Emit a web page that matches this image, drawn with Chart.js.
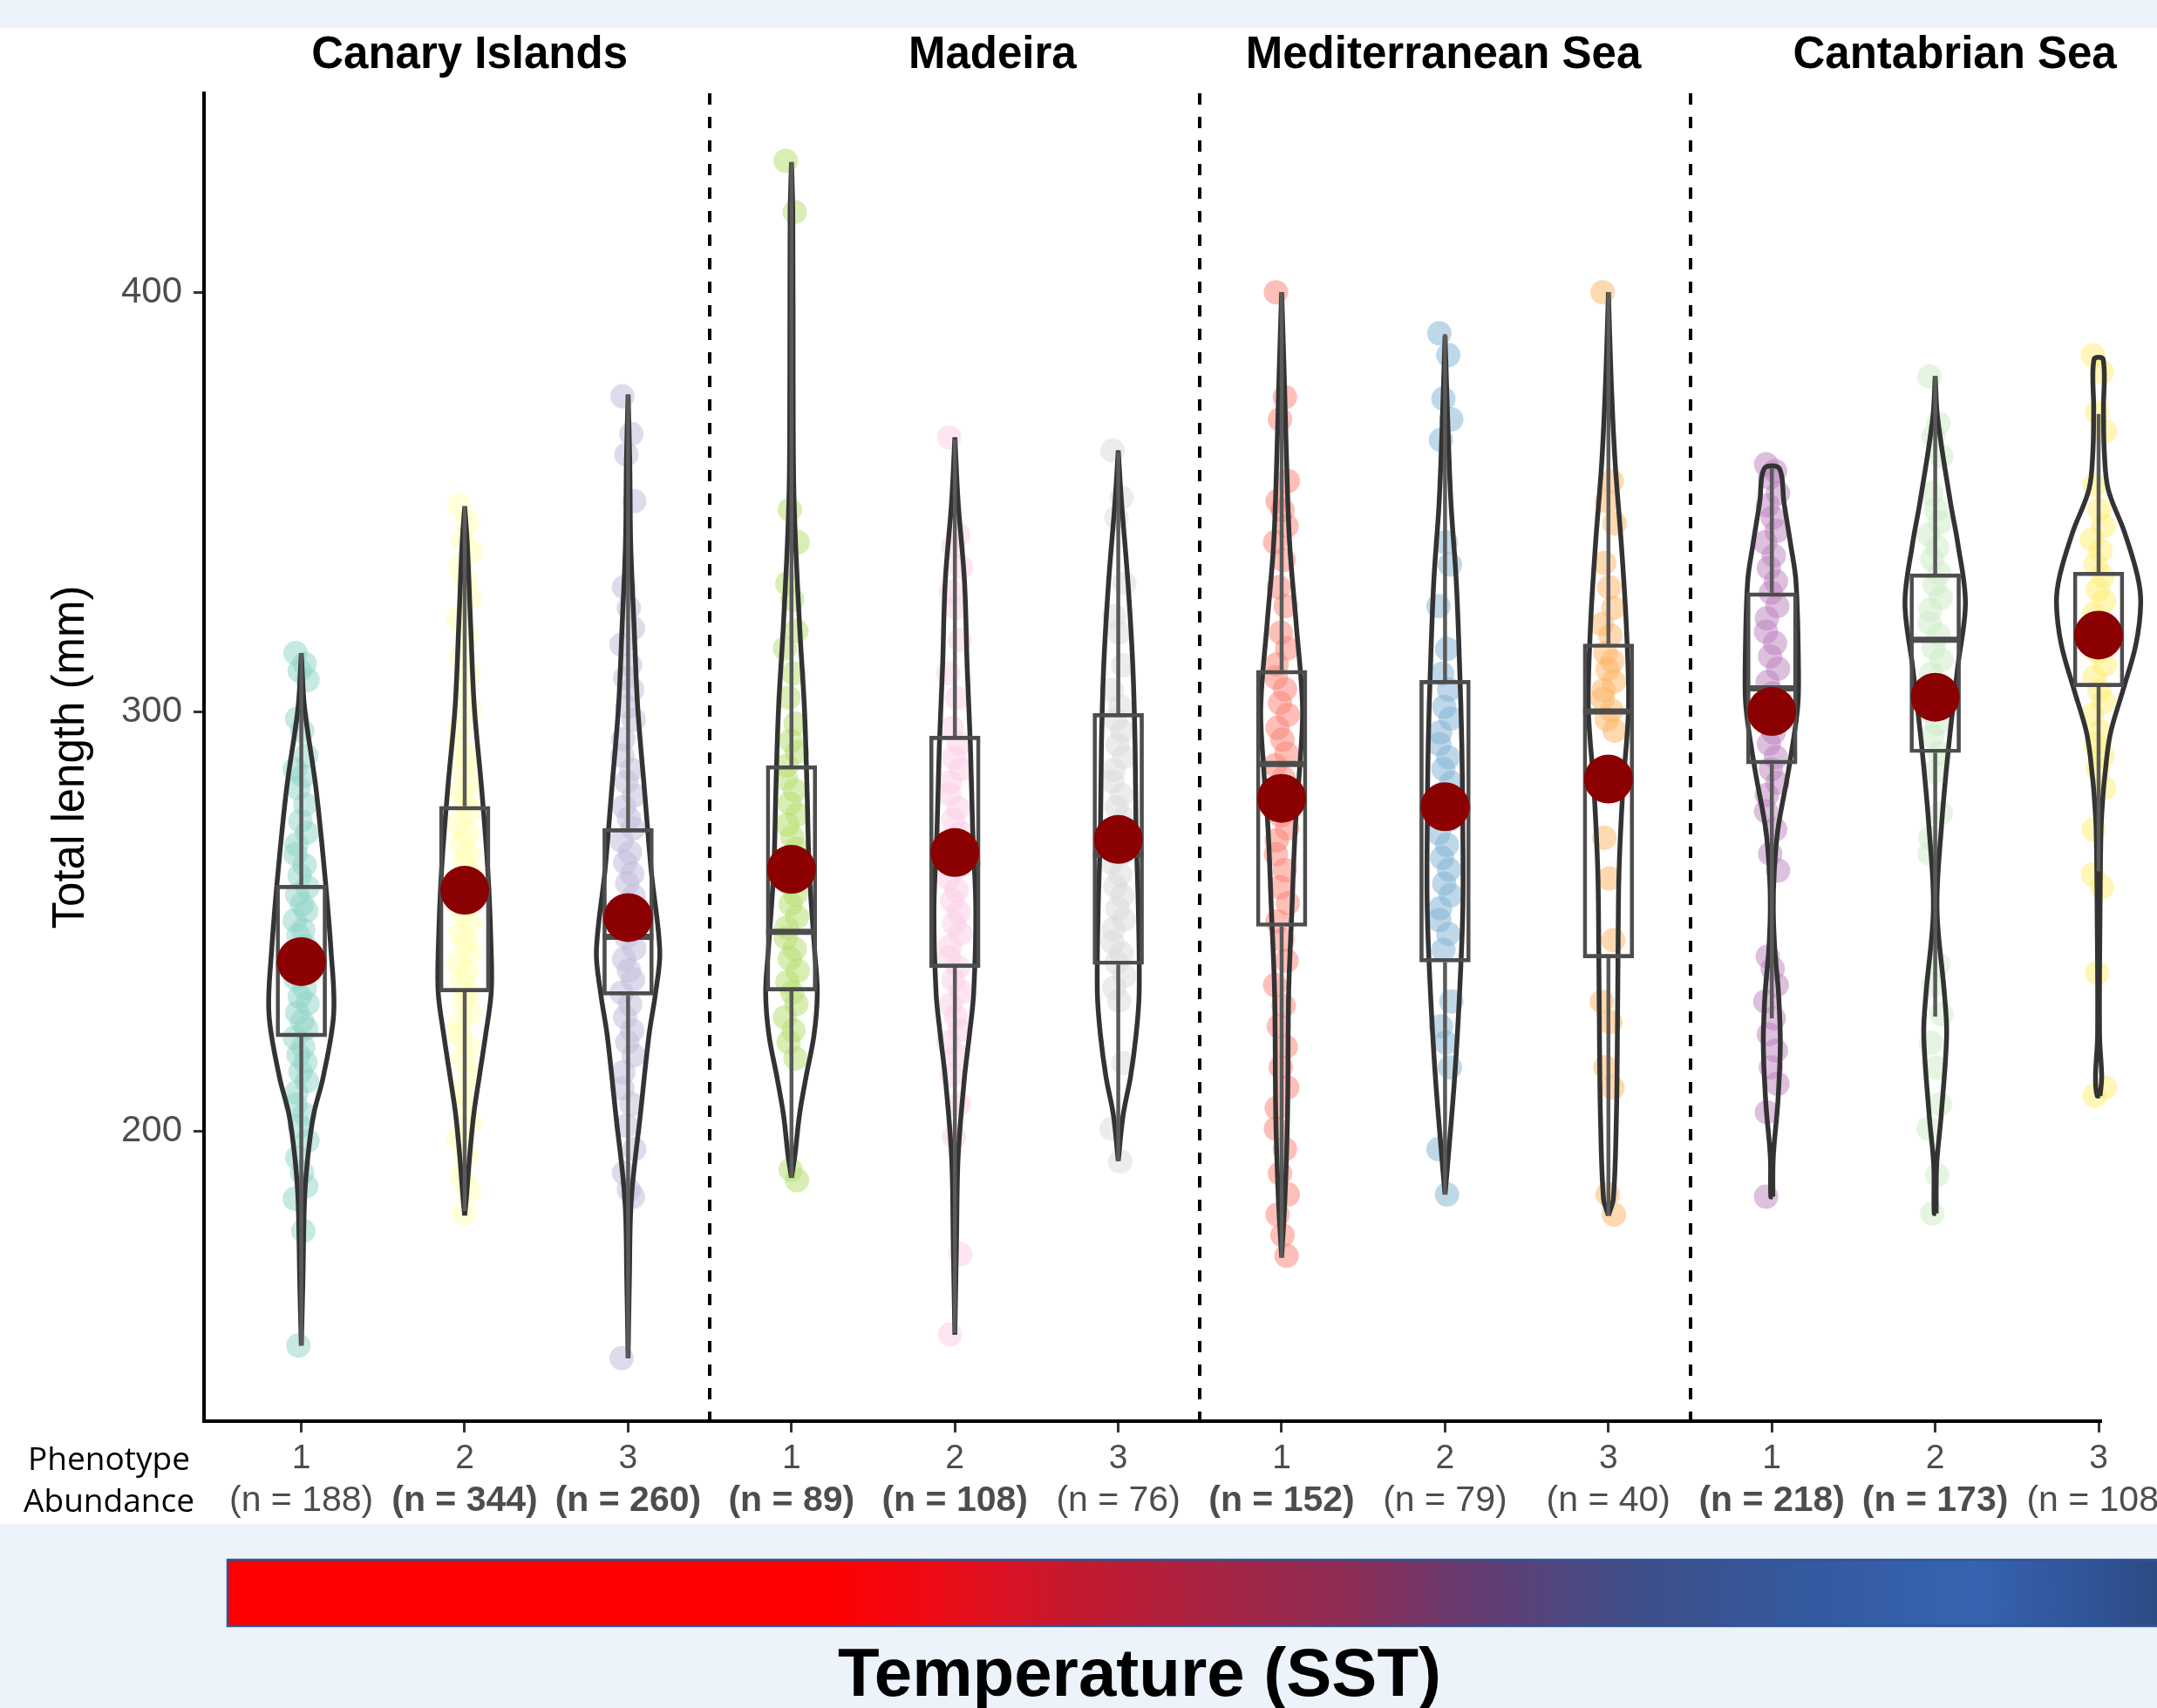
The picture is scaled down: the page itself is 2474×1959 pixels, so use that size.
<!DOCTYPE html>
<html><head><meta charset="utf-8">
<script src="https://cdn.jsdelivr.net/npm/chart.js@4.4.1/dist/chart.umd.min.js"></script>
<style>html,body{margin:0;padding:0;background:#fff;}canvas{display:block;}</style>
</head><body>
<canvas id="c" width="2474" height="1959"></canvas>
<script>
// ---------------- DATA ----------------
const REGIONS = ['Canary Islands', 'Madeira', 'Mediterranean Sea', 'Cantabrian Sea'];
const PHENOTYPE = ['1','2','3','1','2','3','1','2','3','1','2','3'];
const N_LABELS = ['(n = 188)','(n = 344)','(n = 260)','(n = 89)','(n = 108)','(n = 76)','(n = 152)','(n = 79)','(n = 40)','(n = 218)','(n = 173)','(n = 108)'];
const N_BOLD = [false,true,true,true,true,false,true,false,false,true,true,false];
const Y_TICKS = [200, 300, 400];

const MEANS  = [240.5, 257.5, 251, 262.5, 266.5, 269.6, 279.4, 277.4, 284, 300.1, 303.5, 318.3];
const Q1     = [222.6, 233.3, 232.5, 233.5, 239.1, 239.8, 248.9, 240.4, 241.4, 287.6, 290.3, 306];
const MEDIAN = [240, 257, 246.4, 247.6, 264, 266, 287.6, 277, 300.1, 305.6, 317.2, 319];
const Q3     = [258.7, 277.5, 272.2, 287.2, 294.2, 299.6, 309.9, 307.5, 316.2, 328.4, 332.9, 333.3];
const WHISK_LO = [149, 181, 146, 189, 152, 193, 170, 185, 180, 227, 227.4, 262];
const WHISK_HI = [314, 349, 375.6, 431, 365, 362, 400, 390, 400, 358, 380, 371];

// violin outlines: [length, half-width in phenotype units]
const V1 = [[149,0],[165,0.01],[184,0.02],[194,0.04],[204,0.075],[213,0.134],[228,0.198],[243,0.182],[262,0.142],[282,0.089],[301,0.02],[314,0]];
const V2 = [[180,0],[184,0.01],[194,0.03],[204,0.055],[213,0.089],[223,0.128],[233,0.162],[243,0.162],[262,0.142],[282,0.103],[301,0.059],[321,0.036],[340,0.016],[349,0]];
const V3 = [[146,0],[165,0.008],[184,0.02],[204,0.075],[223,0.128],[233,0.168],[243,0.194],[262,0.142],[282,0.099],[301,0.059],[321,0.036],[340,0.016],[360,0.01],[375.6,0]];
const V4 = [[189,0],[194,0.02],[204,0.049],[213,0.089],[223,0.138],[233,0.158],[243,0.142],[262,0.109],[282,0.095],[301,0.079],[321,0.049],[350,0.016],[380,0.01],[419,0.008],[431,0]];
const V5 = [[151.6,0],[174,0.01],[194,0.02],[213,0.059],[223,0.089],[233,0.115],[253,0.128],[272,0.109],[292,0.095],[311,0.075],[331,0.059],[350,0.02],[365.4,0]];
const V6 = [[193,0],[204,0.03],[213,0.075],[223,0.109],[233,0.128],[253,0.123],[272,0.109],[292,0.103],[311,0.089],[331,0.059],[350,0.02],[362.3,0]];
const V7 = [[170,0],[184,0.02],[204,0.036],[233,0.043],[253,0.063],[272,0.083],[286,0.109],[301,0.128],[321,0.089],[340,0.049],[360,0.03],[380,0.016],[400,0]];
const V8 = [[185,0],[194,0.02],[213,0.059],[233,0.089],[253,0.109],[272,0.109],[292,0.103],[311,0.089],[331,0.069],[350,0.036],[370,0.016],[389.6,0]];
const V9 = [[180,0],[184,0.03],[204,0.049],[223,0.055],[243,0.059],[262,0.065],[282,0.089],[301,0.123],[321,0.109],[340,0.079],[360,0.04],[380,0.016],[400,0]];
const V10 = [[184.5,0.006],[194,0.009],[207,0.037],[221,0.052],[233,0.041],[243,0.019],[253,0.009],[262,0.015],[272,0.037],[286,0.102],[301,0.158],[311,0.163],[331,0.148],[340,0.115],[350,0.074],[358,0.046]];
const V11 = [[180.5,0.006],[192,0.009],[204,0.037],[223,0.07],[233,0.056],[253,0.011],[272,0.037],[292,0.083],[311,0.139],[326,0.185],[340,0.139],[350,0.093],[370,0.015],[380,0]];
const V12 = [[208.5,0.009],[213,0.019],[223,0.006],[253,0.009],[272,0.015],[279,0.025],[284,0.036],[294.6,0.071],[305,0.148],[316,0.228],[326,0.258],[332.6,0.237],[343,0.157],[353,0.059],[362,0.035],[372,0.03],[384,0.028]];

// individual fish lengths (visible points)
const P1 = [314,311.5,309.8,307.6,298.4,295.5,289.6,286.3,284.7,281.8,277.9,274,271.2,268.4,266.1,263.5,261,258.2,256.4,254.1,252.6,250.3,248,246.7,244.2,242.1,240.6,238.3,236.4,234.2,232.1,230.5,228.3,226.2,224.6,222.4,220.1,218.3,216.5,214.2,212,209.3,206.4,204.1,201.2,197.8,193.8,190.2,187,184,176.3,149];
const P2 = [349.2,345.3,341.1,338.2,334.7,331.2,327.4,322.1,318.3,313.2,309.1,305.4,300.6,296.3,292.1,289.2,286.4,283.1,281.3,278.5,276.2,273.4,271.1,268.7,266.2,264.1,261.4,259.2,256.6,254.3,252.1,249.4,247.2,245.1,242.6,240.2,238.1,235.4,233.2,231.1,228.3,225.6,223.1,220.3,217.2,213.4,209.5,206.1,202.3,198.2,194.1,189.3,186,180.5];
const P3 = [375.2,366.2,361.3,350.2,329.7,324.8,319.9,316,311.2,308.1,305.3,301.2,298.1,293.5,289.6,286.2,283.3,280.1,277.4,274.6,272.2,269.3,266.5,264.1,261.4,259.2,256.1,253.6,251.2,248.5,246.3,243.6,241.1,238.4,236.2,233.1,230.3,227.2,224.1,221.3,218.2,214.1,210.3,206.5,201.4,195.8,190.2,186.1,184.5,146];
const P4 = [431.3,419.1,348.2,340.4,330.6,326.7,319.3,315.1,309.2,303.4,297.2,293.1,290.4,287.2,284.1,281.3,278.2,275.5,273.1,270.2,267.4,264.6,262.1,259.3,256.5,254.2,251.1,248.6,246.2,243.5,241.2,238.3,235.6,233.1,230.4,227.2,224.1,221.3,217.4,190.9,188.4];
const P5 = [365.4,342.3,339.4,334.5,328.7,324.8,317.1,309.2,303.3,296.2,292.4,289.1,286.3,283.2,280.4,277.1,274.3,271.2,268.5,266.1,263.2,260.4,257.5,255.1,252.3,249.5,247.2,244.1,241.5,239.2,236.1,233.3,230.2,227.4,224.1,221.3,218.2,213.4,206.5,198.7,170.8,151.6];
const P6 = [362.3,351.1,346.3,330.6,322.8,318.9,311.1,305.2,301.3,298.1,295.4,292.2,289.3,286.1,283.4,280.2,277.3,274.5,272.1,269.2,266.5,264.1,261.3,258.5,256.2,253.1,250.5,248.2,245.1,242.5,240.2,237.1,234.3,231.2,216.3,200.7,192.9];
const P7 = [400,375,369.7,355,350.2,348.1,344.3,340.4,336.2,329.7,325.2,318.9,315.1,311.3,308.2,305.4,302.1,299.3,296.2,293.4,290.1,287.3,284.2,281.4,278.1,275.3,272.2,269.4,266.1,262.3,258.2,254.4,250.1,245.6,240.7,234.9,230,225.1,220.2,215.3,210.5,205.6,200.7,195.8,190,185,180.2,175.3,170.4];
const P8 = [390.2,385,374.6,369.7,364.8,340.4,335.1,325.2,315,309.1,305.3,301.2,298.4,295.1,292.3,289.2,286.4,283.1,280.3,277.2,274.4,271.1,268.3,265.2,262.4,259.1,256.3,253.2,250.4,247.1,243.3,231,225.1,221.2,215.3,195.8,185];
const P9 = [400,355,350.2,344.9,335.5,329.7,324.8,320.9,318.2,314,312.1,310.1,307.2,305.2,303.1,300.3,298.2,295.5,270,260.3,245.6,231,226.1,215.3,210.5,185,180.2];
const P10 = [359,357.4,355.8,352.1,349.2,346.3,343.1,340.4,337.2,334.3,331.1,328.4,325.2,322.3,319.1,316.4,313.2,310.3,307.1,304.4,301.2,298.3,295.1,292.4,289.2,286.3,283.1,280.2,276.3,272,266.2,262.2,241.7,238.8,234.9,231,227,223.2,219.3,215.3,211.4,204.6,184.5];
const P11 = [379.9,368.7,365.8,360.9,352.1,348.2,345.1,342.3,339.2,336.4,333.1,330.3,327.2,324.4,321.1,318.3,315.2,312.4,309.1,306.3,303.2,300.4,297.1,294.3,290.2,285.7,275.9,270,266.2,239.8,234.9,228,221.2,215.3,206.5,200.7,189.6,180.5];
const P12 = [385,381,371.3,366.8,354.1,348.2,344.3,341.1,338.4,335.2,332.3,329.1,326.4,323.2,320.3,317.1,314.4,311.2,308.3,305.1,302.4,299.2,295.3,292.1,289.6,286.4,281.8,272,261.3,258.3,237.8,210.5,208.5];

const VIOLINS = [V1,V2,V3,V4,V5,V6,V7,V8,V9,V10,V11,V12];
const POINTS = [P1,P2,P3,P4,P5,P6,P7,P8,P9,P10,P11,P12];

// ---------------- LAYOUT / STYLE ----------------
const COLORS = ['141,211,199','255,255,179','190,186,218','179,222,105','252,205,229','217,217,217','251,128,114','128,177,211','253,180,98','188,128,189','204,235,197','255,237,111'];
const JITTER = [-0.035,0.02,-0.01,0.038,-0.025,0.005,0.03,-0.04,0.012,-0.018,0.025,-0.005,0.034,-0.03];
const SEPARATORS = [3.5, 6.5, 9.5];
const TITLE_POS = [2.03, 5.23, 7.99, 11.12];
const X_MIN = 0.4045, X_MAX = 12.016;

const datasets = [];
POINTS.forEach((arr, i) => {
  datasets.push({
    type: 'scatter', order: 6, clip: false,
    data: arr.map((y, j) => ({x: i + 1 + JITTER[j % JITTER.length], y})),
    pointRadius: 14, pointHoverRadius: 14, borderWidth: 0,
    backgroundColor: 'rgba(' + COLORS[i] + ',0.5)'
  });
});
VIOLINS.forEach((v, i) => {
  const c = i + 1;
  const right = v.map(([y, w]) => ({x: c + w, y}));
  const left = v.slice().reverse().map(([y, w]) => ({x: c - w, y}));
  datasets.push({
    type: 'scatter', order: 5, showLine: true, fill: false, clip: false,
    data: right.concat(left, [right[0]]),
    pointRadius: 0, borderColor: '#333333', borderWidth: 5.5, tension: 0.35
  });
});
const whiskerData = [];
Q1.forEach((q, i) => {
  const c = i + 1;
  whiskerData.push({x: c, y: WHISK_LO[i]}, {x: c, y: q}, {x: c, y: null},
                   {x: c, y: Q3[i]}, {x: c, y: WHISK_HI[i]}, {x: c, y: null});
});
datasets.push({
  type: 'scatter', order: 4, showLine: true, spanGaps: false, clip: false, data: whiskerData,
  pointRadius: 0, borderColor: '#5a5a5a', borderWidth: 4.5, tension: 0
});
datasets.push({
  type: 'bar', order: 3, grouped: false, clip: false,
  data: Q1.map((q, i) => ({x: i + 1, y: [q, Q3[i]]})),
  barThickness: 58, borderSkipped: false, borderWidth: 4,
  borderColor: '#4d4d4d', backgroundColor: 'rgba(0,0,0,0)'
});
datasets.push({
  type: 'scatter', order: 2, clip: false,
  data: MEDIAN.map((m, i) => ({x: i + 1, y: m})),
  pointStyle: 'line', pointRadius: 29, borderWidth: 7, borderColor: '#4d4d4d'
});
datasets.push({
  type: 'scatter', order: 1, clip: false,
  data: MEANS.map((m, i) => ({x: i + 1, y: m})),
  pointRadius: 28, borderWidth: 0, backgroundColor: '#8B0000'
});

const decor = {
  id: 'decor',
  beforeDraw(chart) {
    const ctx = chart.ctx;
    ctx.save();
    ctx.fillStyle = '#ffffff';
    ctx.fillRect(0, 0, chart.width, chart.height);
    ctx.fillStyle = '#ECF3FA';
    ctx.fillRect(0, 0, chart.width, 32);
    ctx.fillRect(0, 1748, chart.width, chart.height - 1748);
    ctx.restore();
  },
  beforeDatasetsDraw(chart) {
    const ctx = chart.ctx, xs = chart.scales.x, a = chart.chartArea;
    ctx.save();
    ctx.strokeStyle = '#000';
    ctx.lineWidth = 4;
    ctx.setLineDash([13, 14]);
    SEPARATORS.forEach(s => {
      const px = Math.round(xs.getPixelForValue(s));
      ctx.beginPath();
      ctx.moveTo(px, a.top);
      ctx.lineTo(px, a.bottom);
      ctx.stroke();
    });
    ctx.restore();
  },
  afterDraw(chart) {
    const ctx = chart.ctx, xs = chart.scales.x;
    ctx.save();
    ctx.fillStyle = '#000';
    ctx.textAlign = 'center';
    ctx.textBaseline = 'alphabetic';
    ctx.font = 'bold 51px "Liberation Sans", Arial, sans-serif';
    REGIONS.forEach((r, i) => ctx.fillText(r, xs.getPixelForValue(TITLE_POS[i]), 78));
    ctx.font = '37px "Open Sans", sans-serif';
    ctx.fillText('Phenotype', 125, 1686);
    ctx.fillText('Abundance', 125, 1734);
    // temperature gradient bar
    const g = ctx.createLinearGradient(261, 0, 2474, 0);
    g.addColorStop(0, '#FF0000');
    g.addColorStop(0.31, '#FF0000');
    g.addColorStop(0.37, '#EC0B17');
    g.addColorStop(0.442, '#C21A30');
    g.addColorStop(0.58, '#8E2D56');
    g.addColorStop(0.65, '#633D73');
    g.addColorStop(0.73, '#3E4E88');
    g.addColorStop(0.82, '#335AA0');
    g.addColorStop(0.905, '#3763B0');
    g.addColorStop(0.96, '#30559A');
    g.addColorStop(1, '#2C4B85');
    ctx.fillStyle = g;
    ctx.fillRect(261, 1789, 2474 - 261 + 4, 76);
    ctx.strokeStyle = '#2F5597';
    ctx.lineWidth = 2.5;
    ctx.strokeRect(261, 1789, 2474 - 261 + 4, 76);
    ctx.fillStyle = '#000';
    ctx.font = 'bold 78px "Liberation Sans", Arial, sans-serif';
    ctx.fillText('Temperature (SST)', 1307, 1945);
    ctx.restore();
  }
};

new Chart(document.getElementById('c'), {
  type: 'scatter',
  data: {datasets},
  plugins: [decor],
  options: {
    responsive: false, animation: false, devicePixelRatio: 1, events: [],
    layout: {padding: {left: 0, right: 64, top: 107, bottom: 211}},
    plugins: {legend: {display: false}, tooltip: {enabled: false}},
    scales: {
      x: {
        type: 'linear', position: 'bottom', min: X_MIN, max: X_MAX, offset: false, weight: 0,
        grid: {display: true, drawOnChartArea: false, drawTicks: true, tickLength: 13, tickWidth: 3, tickColor: '#333333', offset: false},
        border: {display: true, color: '#000', width: 4},
        afterBuildTicks: s => { s.ticks = PHENOTYPE.map((_, i) => ({value: i + 1})); },
        afterFit: s => { s.height = 67; s.paddingLeft = 0; s.paddingRight = 0; },
        ticks: {autoSkip: false, maxRotation: 0, minRotation: 0, padding: 7, color: '#4d4d4d',
          font: {family: '"Liberation Sans", Arial, sans-serif', size: 39},
          callback: (v, i) => PHENOTYPE[i]}
      },
      xn: {
        type: 'linear', position: 'bottom', axis: 'x', min: X_MIN, max: X_MAX, offset: false, weight: 1,
        grid: {display: false, drawTicks: false, drawOnChartArea: false},
        border: {display: false},
        afterBuildTicks: s => { s.ticks = N_LABELS.map((_, i) => ({value: i + 1})); },
        afterFit: s => { s.height = 51; s.paddingLeft = 0; s.paddingRight = 0; },
        ticks: {autoSkip: false, maxRotation: 0, minRotation: 0, padding: 0, color: '#4d4d4d',
          font: ctx => ({family: '"Liberation Sans", Arial, sans-serif', size: 41, weight: N_BOLD[ctx.index] ? 'bold' : 'normal'}),
          callback: (v, i) => N_LABELS[i]}
      },
      y: {
        type: 'linear', position: 'left', min: 131, max: 447.4,
        grid: {display: true, drawOnChartArea: false, drawTicks: true, tickLength: 12, tickWidth: 3, tickColor: '#333333'},
        border: {display: true, color: '#000', width: 4},
        afterBuildTicks: s => { s.ticks = Y_TICKS.map(v => ({value: v})); },
        afterFit: s => { s.width = 234; s.paddingTop = 0; s.paddingBottom = 0; },
        ticks: {padding: 13, color: '#4d4d4d', font: {family: '"Liberation Sans", Arial, sans-serif', size: 42},
          callback: v => String(v)},
        title: {display: true, text: 'Total length (mm)', color: '#000', padding: {top: 51, bottom: 0},
          font: {family: '"Liberation Sans", Arial, sans-serif', size: 51}}
      }
    }
  }
});
</script>
</body></html>
